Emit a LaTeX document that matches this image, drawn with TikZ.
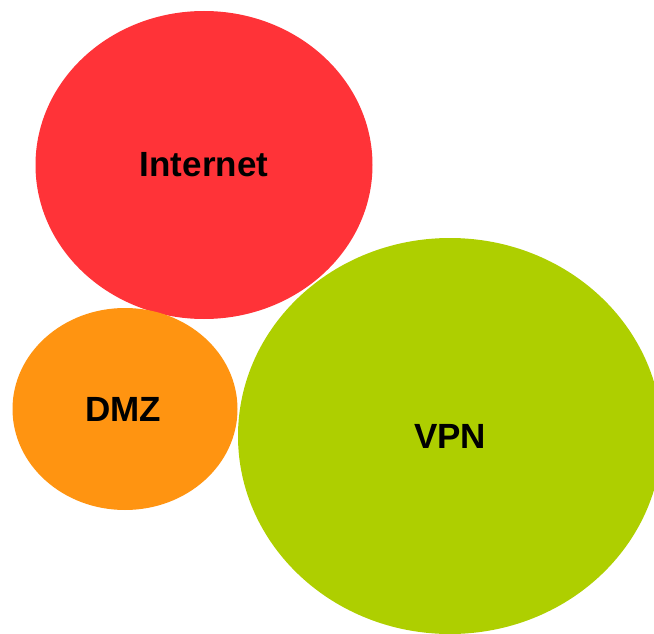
\documentclass[tikz,border=0pt]{standalone}
\usepackage{fontspec}
\setmainfont{Liberation Sans}
\usetikzlibrary{shapes.geometric}
\definecolor{zoneRed}{RGB}{255,51,56}
\definecolor{zoneOrange}{RGB}{255,148,17}
\definecolor{zoneGreen}{RGB}{174,207,0}
\begin{document}
\begin{tikzpicture}[x=1pt,y=-1pt,
    netZone/.style={ellipse,draw=none,inner sep=0pt,font=\fontsize{35}{38}\selectfont\bfseries},
]
\useasboundingbox (0,0) rectangle (654,634);
\clip (0,0) rectangle (654,634);
% Internet
\node[netZone,fill=zoneRed,minimum width=337pt,minimum height=308pt] (internet) at (204,165) {Internet};
% DMZ
\node[netZone,fill=zoneOrange,minimum width=225pt,minimum height=202pt] (dmz) at (125,409) {};
\node[font=\fontsize{35}{38}\selectfont\bfseries] (dmzLabel) at (123,409) {DMZ};
% VPN
\node[netZone,fill=zoneGreen,minimum width=424pt,minimum height=396pt] (vpn) at (450,436) {VPN};
\end{tikzpicture}
\end{document}
